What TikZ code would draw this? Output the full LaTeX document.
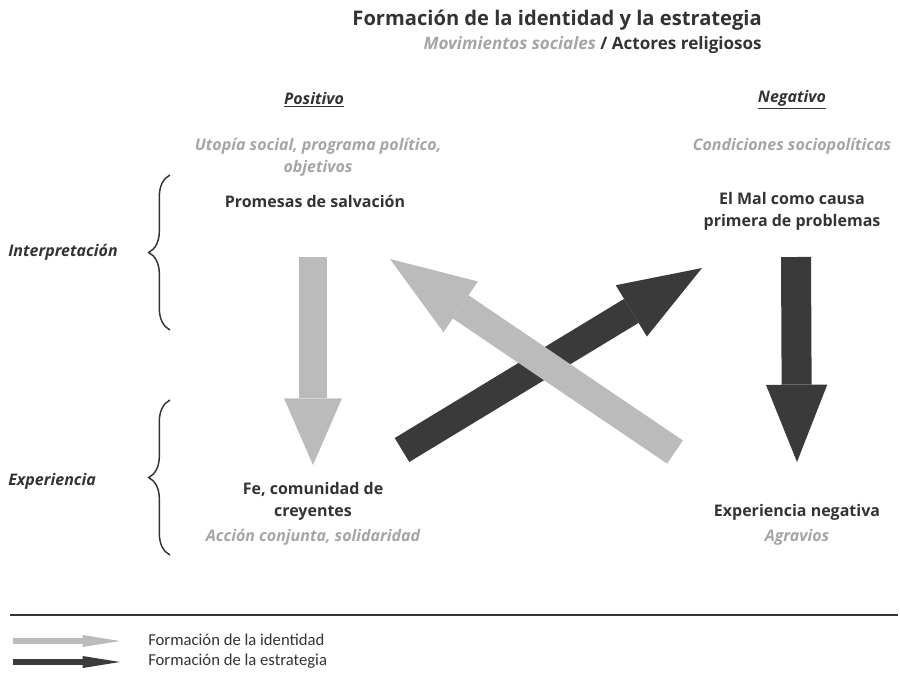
\documentclass[tikz,border=0pt]{standalone}
\usepackage{fontspec}
\setmainfont{Open Sans}
\newfontfamily\legendfont{Carlito}
\usepackage{tikz}
\usetikzlibrary{positioning, arrows.meta, decorations.pathreplacing}

\definecolor{txtdark}{HTML}{333333}
\definecolor{txtgray}{HTML}{A5A5A5}
\definecolor{idgray}{HTML}{BBBBBB}
\definecolor{stdark}{HTML}{3A3A3A}

\tikzset{
  lbl/.style={text=txtdark, font=\fontsize{12}{16.5}\selectfont\bfseries, align=center, inner sep=0pt},
  sublbl/.style={text=txtgray, font=\fontsize{12}{16.5}\selectfont\bfseries\itshape, align=center, inner sep=0pt},
  sidelbl/.style={text=txtdark, font=\fontsize{12}{16.5}\selectfont\bfseries\itshape, anchor=west, inner sep=0pt},
  headlbl/.style={text=txtdark, font=\fontsize{12}{16.5}\selectfont\bfseries\itshape, inner sep=0pt},
  legendlbl/.style={text=txtdark, font=\legendfont\fontsize{12.5}{15}\selectfont, anchor=west, inner sep=0pt},
  idarrow/.style={draw=idgray, line width=21pt},
  starrow/.style={draw=stdark, line width=21pt},
  bracket/.style={draw=txtdark, line width=1.1pt, decorate, decoration={brace, amplitude=16pt}}
}

\begin{document}
\begin{tikzpicture}[x=0.75pt, y=-0.75pt]
\useasboundingbox (0,0) rectangle (900,672);
% titel
\node[lbl, font=\fontsize{15.1}{18}\selectfont\bfseries, anchor=east] (title) at (762,20) {Formación de la identidad y la estrategia};
\node[lbl, font=\fontsize{12.8}{16}\selectfont\bfseries, anchor=east] (subtitle) at (762,45) {\textcolor{txtgray}{\itshape Movimientos sociales} / Actores religiosos};
% spalten
\node[headlbl] (pos) at (314,100) {\underline{Positivo}};
\node[headlbl] (neg) at (792,100) {\underline{Negativo}};
\node[sublbl] (utopia) at (318,157) {Utopía social, programa político,\\objetivos};
\node[sublbl] (cond) at (792,146) {Condiciones sociopolíticas};
\node[lbl] (promesas) at (315,201) {Promesas de salvación};
\node[lbl] (mal) at (792,211) {El Mal como causa\\primera de problemas};
\node[lbl] (fe) at (313,501) {Fe, comunidad de\\creyentes};
\node[sublbl] (accion) at (313,537) {Acción conjunta, solidaridad};
\node[lbl] (expneg) at (797,512) {Experiencia negativa};
\node[sublbl] (agravios) at (797,537) {Agravios};
% links
\node[sidelbl] (interp) at (8,252) {Interpretación};
\node[sidelbl] (exp) at (8,481) {Experiencia};
\draw[bracket] (170,330) -- (170,175);
\draw[bracket] (170,555) -- (170,400);
% pfeile
\coordinate (a1) at (313,257);
\coordinate (a2) at (313,465);
\coordinate (b1) at (796,257);
\coordinate (b2) at (797,462);
\coordinate (c1) at (402,450);
\coordinate (c2) at (702,268);
\coordinate (d1) at (675,452);
\coordinate (d2) at (390,259);
\draw[idarrow, -{Triangle[length=50pt, width=43.5pt, line width=0pt]}] (a1) -- (a2);
\draw[starrow, line width=22.5pt, -{Triangle[length=58pt, width=46pt, line width=0pt]}] (b1) -- (b2);
\draw[starrow, -{Triangle[length=62pt, width=45pt, line width=0pt]}] (c1) -- (c2);
\draw[idarrow, -{Triangle[length=64pt, width=46pt, line width=0pt]}] (d1) -- (d2);
% legende
\coordinate (l1) at (10,615);
\coordinate (l2) at (898,615);
\draw[txtdark, line width=0.8pt] (l1) -- (l2);
\coordinate (e1) at (13,641);
\coordinate (e2) at (120,641);
\coordinate (f1) at (13,662);
\coordinate (f2) at (120,662);
\draw[idarrow, line width=5pt, -{Triangle[length=28pt, width=9pt, line width=0pt]}] (e1) -- (e2);
\draw[starrow, line width=5pt, -{Triangle[length=28pt, width=9pt, line width=0pt]}] (f1) -- (f2);
\node[legendlbl] (leg1) at (148,640) {Formación de la identidad};
\node[legendlbl] (leg2) at (148,661) {Formación de la estrategia};
\end{tikzpicture}
\end{document}
